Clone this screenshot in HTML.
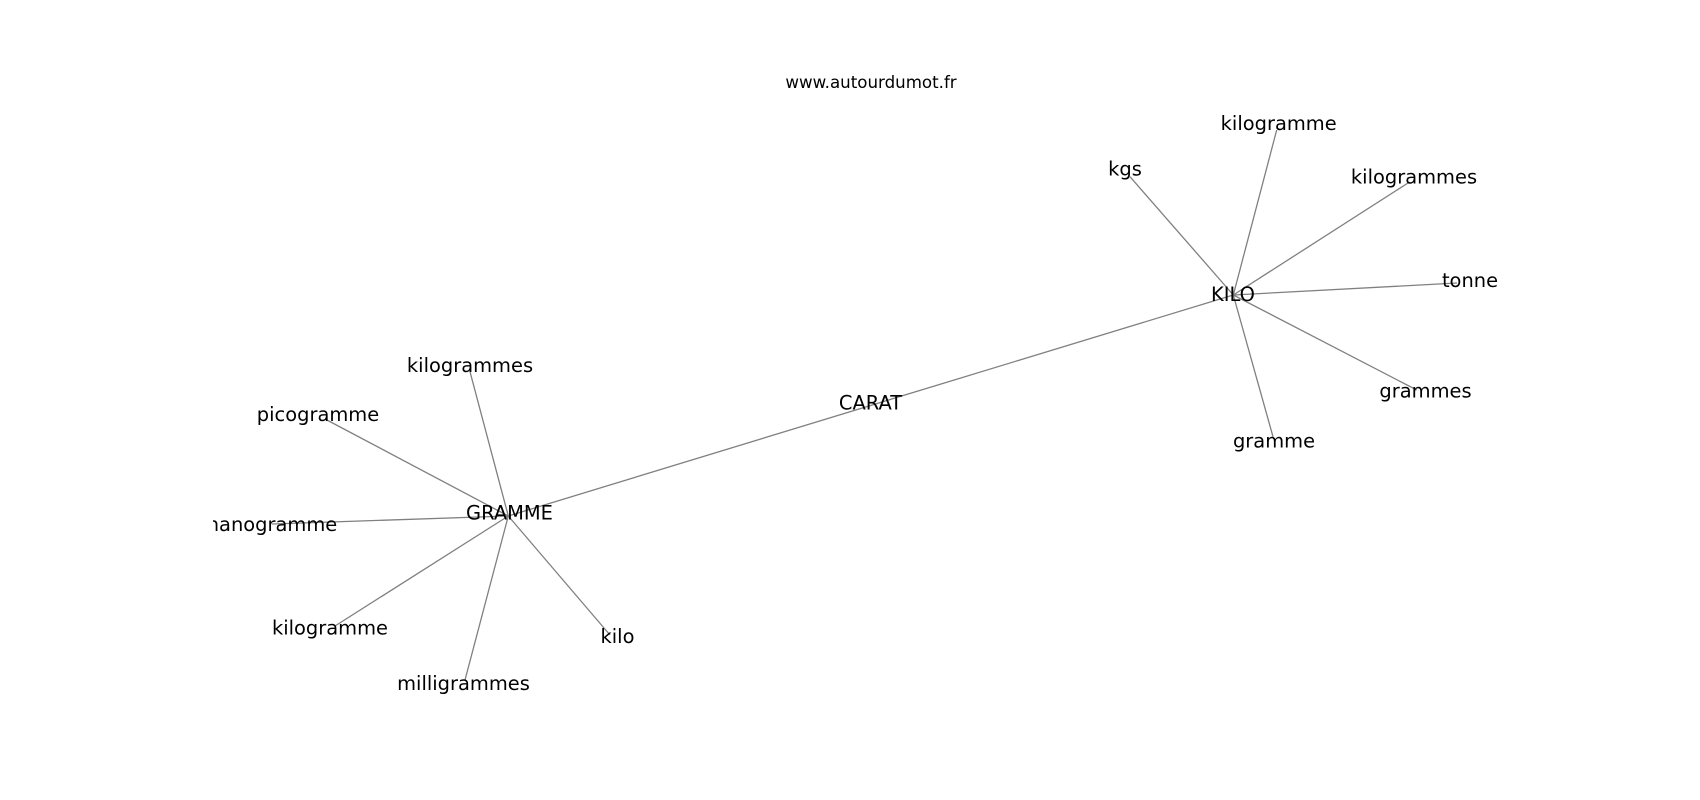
<!DOCTYPE html>
<html>
<head>
<meta charset="utf-8">
<style>
  html, body { margin: 0; padding: 0; background: #ffffff; }
  body { width: 1700px; height: 800px; overflow: hidden; }
  svg { display: block; }
  text { font-family: "DejaVu Sans", "Liberation Sans", sans-serif; fill: #000; }
  .lbl { font-size: 19.44px; text-anchor: middle; }
  .ttl { font-size: 16.67px; text-anchor: middle; }
  line { stroke: #808080; stroke-width: 1.3; }
</style>
</head>
<body>
<svg width="1700" height="800" viewBox="0 0 1700 800" xmlns="http://www.w3.org/2000/svg">
  <defs>
    <clipPath id="ax">
      <rect x="213" y="0" width="1487" height="800"/>
    </clipPath>
  </defs>
  <rect x="0" y="0" width="1700" height="800" fill="#ffffff"/>

  <text class="ttl" x="871" y="88">www.autourdumot.fr</text>

  <g clip-path="url(#ax)">
    <!-- edges -->
    <line x1="508.3" y1="516" x2="870.5" y2="405.5"/>
    <line x1="870.5" y1="405.5" x2="1233.3" y2="295"/>

    <line x1="508.3" y1="516" x2="470" y2="371.7"/>
    <line x1="508.3" y1="516" x2="325" y2="419"/>
    <line x1="508.3" y1="516" x2="272" y2="524"/>
    <line x1="508.3" y1="516" x2="335" y2="626"/>
    <line x1="508.3" y1="516" x2="465" y2="680"/>
    <line x1="508.3" y1="516" x2="610" y2="635"/>

    <line x1="1233.3" y1="295" x2="1276.7" y2="130"/>
    <line x1="1233.3" y1="295" x2="1130" y2="176.7"/>
    <line x1="1233.3" y1="295" x2="1408" y2="183"/>
    <line x1="1233.3" y1="295" x2="1457" y2="283"/>
    <line x1="1233.3" y1="295" x2="1416.7" y2="390"/>
    <line x1="1233.3" y1="295" x2="1273" y2="436.7"/>

    <!-- labels -->
    <text class="lbl" x="509.5" y="519.5">GRAMME</text>
    <text class="lbl" x="1233" y="301">KILO</text>
    <text class="lbl" x="870.5" y="409.3">CARAT</text>

    <text class="lbl" x="470" y="372">kilogrammes</text>
    <text class="lbl" x="318" y="421">picogramme</text>
    <text class="lbl" x="272" y="531">nanogramme</text>
    <text class="lbl" x="330" y="634.3">kilogramme</text>
    <text class="lbl" x="463.5" y="690">milligrammes</text>
    <text class="lbl" x="617.5" y="643">kilo</text>

    <text class="lbl" x="1278.7" y="130">kilogramme</text>
    <text class="lbl" x="1125" y="175.5">kgs</text>
    <text class="lbl" x="1414" y="183.5">kilogrammes</text>
    <text class="lbl" x="1470" y="287.2">tonne</text>
    <text class="lbl" x="1425.5" y="397.7">grammes</text>
    <text class="lbl" x="1274" y="447.7">gramme</text>
  </g>
</svg>
</body>
</html>
